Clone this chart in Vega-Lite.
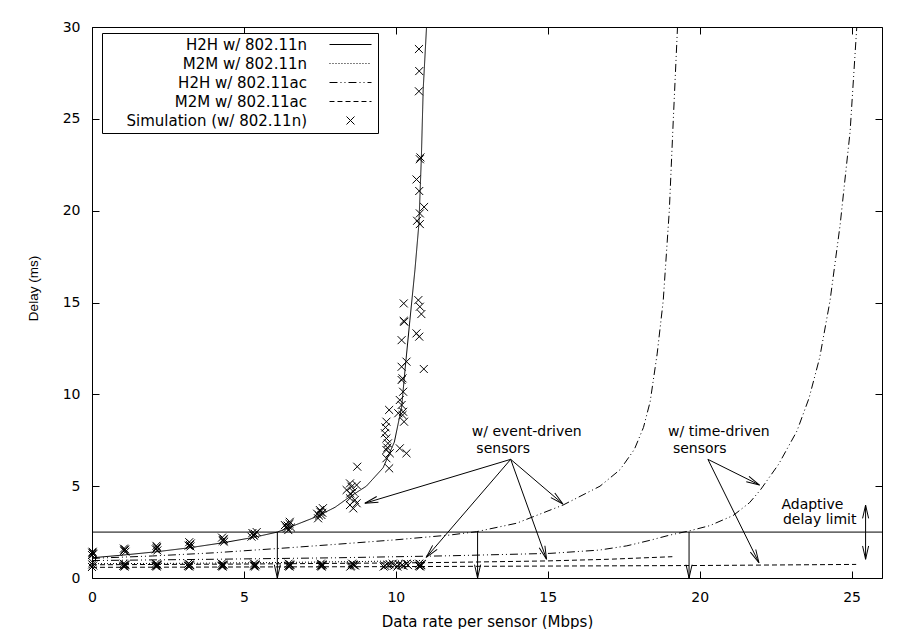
{
 "$schema": "https://vega.github.io/schema/vega-lite/v6.json",
 "width": 790,
 "height": 551,
 "autosize": "none",
 "padding": {"left": 92, "top": 27, "right": 22, "bottom": 51},
 "background": "white",
 "config": {
  "font": "DejaVu Sans",
  "view": {"stroke": "black", "strokeWidth": 1},
  "axis": {"grid": false, "domain": false, "tickColor": "black", "tickSize": -7, "tickWidth": 1, "labelPadding": 19, "labelFlush": false, "labelFont": "DejaVu Sans", "labelFontSize": 14, "labelColor": "black", "titleFont": "DejaVu Sans", "titleFontSize": 15, "titleFontWeight": "normal", "titleColor": "black"}
 },
 "resolve": {"axis": {"x": "independent", "y": "independent"}},
 "datasets": {
  "curves": [
   {"c": "a", "s": "H2H w/ 802.11n", "x": 0, "y": 1.1},
   {"c": "a", "s": "H2H w/ 802.11n", "x": 1.03, "y": 1.25},
   {"c": "a", "s": "H2H w/ 802.11n", "x": 2.13, "y": 1.43},
   {"c": "a", "s": "H2H w/ 802.11n", "x": 3.22, "y": 1.65},
   {"c": "a", "s": "H2H w/ 802.11n", "x": 4.32, "y": 1.92},
   {"c": "a", "s": "H2H w/ 802.11n", "x": 5.31, "y": 2.21},
   {"c": "a", "s": "H2H w/ 802.11n", "x": 6.1, "y": 2.5},
   {"c": "a", "s": "H2H w/ 802.11n", "x": 7.39, "y": 3.34},
   {"c": "a", "s": "H2H w/ 802.11n", "x": 8.0, "y": 3.85},
   {"c": "a", "s": "H2H w/ 802.11n", "x": 8.49, "y": 4.43},
   {"c": "a", "s": "H2H w/ 802.11n", "x": 9.03, "y": 5.0},
   {"c": "a", "s": "H2H w/ 802.11n", "x": 9.58, "y": 6.0},
   {"c": "a", "s": "H2H w/ 802.11n", "x": 9.95, "y": 7.4},
   {"c": "a", "s": "H2H w/ 802.11n", "x": 10.19, "y": 9.3},
   {"c": "a", "s": "H2H w/ 802.11n", "x": 10.3, "y": 11.3},
   {"c": "a", "s": "H2H w/ 802.11n", "x": 10.46, "y": 14.0},
   {"c": "a", "s": "H2H w/ 802.11n", "x": 10.63, "y": 16.8},
   {"c": "a", "s": "H2H w/ 802.11n", "x": 10.76, "y": 19.3},
   {"c": "a", "s": "H2H w/ 802.11n", "x": 10.84, "y": 22.9},
   {"c": "a", "s": "H2H w/ 802.11n", "x": 10.9, "y": 26.6},
   {"c": "a", "s": "H2H w/ 802.11n", "x": 11.01, "y": 30},
   {"c": "b", "s": "M2M w/ 802.11n", "x": 0, "y": 0.78},
   {"c": "b", "s": "M2M w/ 802.11n", "x": 3, "y": 0.8},
   {"c": "b", "s": "M2M w/ 802.11n", "x": 6, "y": 0.84},
   {"c": "b", "s": "M2M w/ 802.11n", "x": 9, "y": 0.9},
   {"c": "b", "s": "M2M w/ 802.11n", "x": 11, "y": 0.96},
   {"c": "c", "s": "H2H w/ 802.11ac", "x": 0, "y": 1.07},
   {"c": "c", "s": "H2H w/ 802.11ac", "x": 2, "y": 1.2},
   {"c": "c", "s": "H2H w/ 802.11ac", "x": 4, "y": 1.37},
   {"c": "c", "s": "H2H w/ 802.11ac", "x": 6.5, "y": 1.65},
   {"c": "c", "s": "H2H w/ 802.11ac", "x": 8, "y": 1.83},
   {"c": "c", "s": "H2H w/ 802.11ac", "x": 10, "y": 2.08},
   {"c": "c", "s": "H2H w/ 802.11ac", "x": 11.78, "y": 2.34},
   {"c": "c", "s": "H2H w/ 802.11ac", "x": 12.65, "y": 2.52},
   {"c": "c", "s": "H2H w/ 802.11ac", "x": 13.97, "y": 2.98},
   {"c": "c", "s": "H2H w/ 802.11ac", "x": 15.5, "y": 3.97},
   {"c": "c", "s": "H2H w/ 802.11ac", "x": 16.72, "y": 5.0},
   {"c": "c", "s": "H2H w/ 802.11ac", "x": 17.38, "y": 5.9},
   {"c": "c", "s": "H2H w/ 802.11ac", "x": 17.85, "y": 7.0},
   {"c": "c", "s": "H2H w/ 802.11ac", "x": 18.15, "y": 8.2},
   {"c": "c", "s": "H2H w/ 802.11ac", "x": 18.37, "y": 9.6},
   {"c": "c", "s": "H2H w/ 802.11ac", "x": 18.6, "y": 12.2},
   {"c": "c", "s": "H2H w/ 802.11ac", "x": 18.8, "y": 15.1},
   {"c": "c", "s": "H2H w/ 802.11ac", "x": 19.0, "y": 20},
   {"c": "c", "s": "H2H w/ 802.11ac", "x": 19.13, "y": 24.9},
   {"c": "c", "s": "H2H w/ 802.11ac", "x": 19.27, "y": 30},
   {"c": "d", "s": "H2H w/ 802.11ac", "x": 0, "y": 0.95},
   {"c": "d", "s": "H2H w/ 802.11ac", "x": 4, "y": 1.02},
   {"c": "d", "s": "H2H w/ 802.11ac", "x": 8, "y": 1.1},
   {"c": "d", "s": "H2H w/ 802.11ac", "x": 11.78, "y": 1.21},
   {"c": "d", "s": "H2H w/ 802.11ac", "x": 15.07, "y": 1.34},
   {"c": "d", "s": "H2H w/ 802.11ac", "x": 16.7, "y": 1.52},
   {"c": "d", "s": "H2H w/ 802.11ac", "x": 17.6, "y": 1.75},
   {"c": "d", "s": "H2H w/ 802.11ac", "x": 18.36, "y": 2.05},
   {"c": "d", "s": "H2H w/ 802.11ac", "x": 19.0, "y": 2.33},
   {"c": "d", "s": "H2H w/ 802.11ac", "x": 19.67, "y": 2.57},
   {"c": "d", "s": "H2H w/ 802.11ac", "x": 20.33, "y": 2.85},
   {"c": "d", "s": "H2H w/ 802.11ac", "x": 21.1, "y": 3.4},
   {"c": "d", "s": "H2H w/ 802.11ac", "x": 21.64, "y": 4.1},
   {"c": "d", "s": "H2H w/ 802.11ac", "x": 22.0, "y": 4.8},
   {"c": "d", "s": "H2H w/ 802.11ac", "x": 22.6, "y": 6.2},
   {"c": "d", "s": "H2H w/ 802.11ac", "x": 23.2, "y": 8.0},
   {"c": "d", "s": "H2H w/ 802.11ac", "x": 23.6, "y": 9.8},
   {"c": "d", "s": "H2H w/ 802.11ac", "x": 23.95, "y": 12.0},
   {"c": "d", "s": "H2H w/ 802.11ac", "x": 24.29, "y": 15.1},
   {"c": "d", "s": "H2H w/ 802.11ac", "x": 24.62, "y": 19.2},
   {"c": "d", "s": "H2H w/ 802.11ac", "x": 24.95, "y": 24.3},
   {"c": "d", "s": "H2H w/ 802.11ac", "x": 25.17, "y": 30},
   {"c": "e", "s": "M2M w/ 802.11ac", "x": 0, "y": 0.72},
   {"c": "e", "s": "M2M w/ 802.11ac", "x": 5, "y": 0.76},
   {"c": "e", "s": "M2M w/ 802.11ac", "x": 10, "y": 0.82},
   {"c": "e", "s": "M2M w/ 802.11ac", "x": 11.78, "y": 0.85},
   {"c": "e", "s": "M2M w/ 802.11ac", "x": 15, "y": 0.93},
   {"c": "e", "s": "M2M w/ 802.11ac", "x": 17, "y": 1.02},
   {"c": "e", "s": "M2M w/ 802.11ac", "x": 19.1, "y": 1.16},
   {"c": "f", "s": "M2M w/ 802.11ac", "x": 0, "y": 0.58},
   {"c": "f", "s": "M2M w/ 802.11ac", "x": 10, "y": 0.62},
   {"c": "f", "s": "M2M w/ 802.11ac", "x": 20, "y": 0.68},
   {"c": "f", "s": "M2M w/ 802.11ac", "x": 25.15, "y": 0.74}
  ],
  "arrows": [
   {"x": 13.78, "y": 6.46, "x2": 8.98, "y2": 4.07},
   {"x": 13.78, "y": 6.46, "x2": 11.0, "y2": 1.12},
   {"x": 13.78, "y": 6.46, "x2": 15.5, "y2": 4.03},
   {"x": 13.78, "y": 6.46, "x2": 14.96, "y2": 1.02},
   {"x": 20.27, "y": 6.46, "x2": 21.97, "y2": 5.06},
   {"x": 20.27, "y": 6.46, "x2": 21.95, "y2": 0.83},
   {"x": 6.1, "y": 2.5, "x2": 6.1, "y2": 0},
   {"x": 12.69, "y": 2.5, "x2": 12.69, "y2": 0},
   {"x": 19.65, "y": 2.5, "x2": 19.65, "y2": 0},
   {"x": 25.46, "y": 2.5, "x2": 25.46, "y2": 3.97},
   {"x": 25.46, "y": 2.5, "x2": 25.46, "y2": 1.02}
  ],
  "labels": [
   {"tx": 12.5, "ty": 7.95, "label": "w/ event-driven"},
   {"tx": 12.65, "ty": 7.02, "label": "sensors"},
   {"tx": 18.96, "ty": 7.95, "label": "w/ time-driven"},
   {"tx": 19.12, "ty": 7.02, "label": "sensors"},
   {"tx": 22.69, "ty": 3.97, "label": "Adaptive"},
   {"tx": 22.74, "ty": 3.16, "label": "delay limit"}
  ],
  "sims": [
   {"s": "Simulation (w/ 802.11n)", "x": 0.02, "y": 1.43},
   {"s": "Simulation (w/ 802.11n)", "x": 0.03, "y": 1.34},
   {"s": "Simulation (w/ 802.11n)", "x": 0.0, "y": 1.25},
   {"s": "Simulation (w/ 802.11n)", "x": 0.01, "y": 1.38},
   {"s": "Simulation (w/ 802.11n)", "x": 0.04, "y": 1.3},
   {"s": "Simulation (w/ 802.11n)", "x": 1.07, "y": 1.52},
   {"s": "Simulation (w/ 802.11n)", "x": 1.05, "y": 1.6},
   {"s": "Simulation (w/ 802.11n)", "x": 1.1, "y": 1.43},
   {"s": "Simulation (w/ 802.11n)", "x": 1.06, "y": 1.48},
   {"s": "Simulation (w/ 802.11n)", "x": 1.09, "y": 1.56},
   {"s": "Simulation (w/ 802.11n)", "x": 2.13, "y": 1.62},
   {"s": "Simulation (w/ 802.11n)", "x": 2.12, "y": 1.75},
   {"s": "Simulation (w/ 802.11n)", "x": 2.15, "y": 1.5},
   {"s": "Simulation (w/ 802.11n)", "x": 2.1, "y": 1.56},
   {"s": "Simulation (w/ 802.11n)", "x": 2.14, "y": 1.68},
   {"s": "Simulation (w/ 802.11n)", "x": 3.22, "y": 1.8},
   {"s": "Simulation (w/ 802.11n)", "x": 3.2, "y": 1.95},
   {"s": "Simulation (w/ 802.11n)", "x": 3.24, "y": 1.72},
   {"s": "Simulation (w/ 802.11n)", "x": 3.18, "y": 1.76},
   {"s": "Simulation (w/ 802.11n)", "x": 3.25, "y": 1.88},
   {"s": "Simulation (w/ 802.11n)", "x": 4.32, "y": 2.07},
   {"s": "Simulation (w/ 802.11n)", "x": 4.28, "y": 2.2},
   {"s": "Simulation (w/ 802.11n)", "x": 4.35, "y": 1.98},
   {"s": "Simulation (w/ 802.11n)", "x": 4.3, "y": 2.02},
   {"s": "Simulation (w/ 802.11n)", "x": 4.34, "y": 2.13},
   {"s": "Simulation (w/ 802.11n)", "x": 5.31, "y": 2.34},
   {"s": "Simulation (w/ 802.11n)", "x": 5.42, "y": 2.5},
   {"s": "Simulation (w/ 802.11n)", "x": 5.25, "y": 2.25},
   {"s": "Simulation (w/ 802.11n)", "x": 5.36, "y": 2.4},
   {"s": "Simulation (w/ 802.11n)", "x": 5.33, "y": 2.3},
   {"s": "Simulation (w/ 802.11n)", "x": 5.28, "y": 2.45},
   {"s": "Simulation (w/ 802.11n)", "x": 6.51, "y": 3.06},
   {"s": "Simulation (w/ 802.11n)", "x": 6.4, "y": 2.79},
   {"s": "Simulation (w/ 802.11n)", "x": 6.46, "y": 2.61},
   {"s": "Simulation (w/ 802.11n)", "x": 6.35, "y": 2.88},
   {"s": "Simulation (w/ 802.11n)", "x": 6.5, "y": 2.95},
   {"s": "Simulation (w/ 802.11n)", "x": 6.42, "y": 2.7},
   {"s": "Simulation (w/ 802.11n)", "x": 6.44, "y": 2.85},
   {"s": "Simulation (w/ 802.11n)", "x": 6.55, "y": 2.75},
   {"s": "Simulation (w/ 802.11n)", "x": 7.5, "y": 3.7},
   {"s": "Simulation (w/ 802.11n)", "x": 7.55, "y": 3.43},
   {"s": "Simulation (w/ 802.11n)", "x": 7.44, "y": 3.25},
   {"s": "Simulation (w/ 802.11n)", "x": 7.6, "y": 3.8},
   {"s": "Simulation (w/ 802.11n)", "x": 7.41, "y": 3.5},
   {"s": "Simulation (w/ 802.11n)", "x": 7.52, "y": 3.6},
   {"s": "Simulation (w/ 802.11n)", "x": 7.47, "y": 3.4},
   {"s": "Simulation (w/ 802.11n)", "x": 7.58, "y": 3.55},
   {"s": "Simulation (w/ 802.11n)", "x": 8.49, "y": 5.15},
   {"s": "Simulation (w/ 802.11n)", "x": 8.71, "y": 5.06},
   {"s": "Simulation (w/ 802.11n)", "x": 8.38, "y": 4.79},
   {"s": "Simulation (w/ 802.11n)", "x": 8.6, "y": 4.7},
   {"s": "Simulation (w/ 802.11n)", "x": 8.49, "y": 4.34},
   {"s": "Simulation (w/ 802.11n)", "x": 8.65, "y": 4.25},
   {"s": "Simulation (w/ 802.11n)", "x": 8.49, "y": 3.97},
   {"s": "Simulation (w/ 802.11n)", "x": 8.71, "y": 4.07},
   {"s": "Simulation (w/ 802.11n)", "x": 8.6, "y": 3.79},
   {"s": "Simulation (w/ 802.11n)", "x": 8.73, "y": 6.06},
   {"s": "Simulation (w/ 802.11n)", "x": 8.54, "y": 4.97},
   {"s": "Simulation (w/ 802.11n)", "x": 8.5, "y": 4.6},
   {"s": "Simulation (w/ 802.11n)", "x": 9.64, "y": 7.88},
   {"s": "Simulation (w/ 802.11n)", "x": 9.69, "y": 7.6},
   {"s": "Simulation (w/ 802.11n)", "x": 9.74, "y": 7.33},
   {"s": "Simulation (w/ 802.11n)", "x": 9.69, "y": 6.97},
   {"s": "Simulation (w/ 802.11n)", "x": 9.8, "y": 6.79},
   {"s": "Simulation (w/ 802.11n)", "x": 9.69, "y": 6.52},
   {"s": "Simulation (w/ 802.11n)", "x": 9.78, "y": 5.97},
   {"s": "Simulation (w/ 802.11n)", "x": 9.69, "y": 8.51},
   {"s": "Simulation (w/ 802.11n)", "x": 9.78, "y": 9.15},
   {"s": "Simulation (w/ 802.11n)", "x": 9.72, "y": 7.1},
   {"s": "Simulation (w/ 802.11n)", "x": 9.66, "y": 8.2},
   {"s": "Simulation (w/ 802.11n)", "x": 10.13, "y": 7.06},
   {"s": "Simulation (w/ 802.11n)", "x": 10.35, "y": 6.79},
   {"s": "Simulation (w/ 802.11n)", "x": 10.27, "y": 8.51},
   {"s": "Simulation (w/ 802.11n)", "x": 10.08, "y": 8.97},
   {"s": "Simulation (w/ 802.11n)", "x": 10.24, "y": 9.05},
   {"s": "Simulation (w/ 802.11n)", "x": 10.13, "y": 9.69},
   {"s": "Simulation (w/ 802.11n)", "x": 10.24, "y": 10.14},
   {"s": "Simulation (w/ 802.11n)", "x": 10.19, "y": 10.78},
   {"s": "Simulation (w/ 802.11n)", "x": 10.22, "y": 10.87},
   {"s": "Simulation (w/ 802.11n)", "x": 10.19, "y": 11.5},
   {"s": "Simulation (w/ 802.11n)", "x": 10.35, "y": 11.78},
   {"s": "Simulation (w/ 802.11n)", "x": 10.19, "y": 12.95},
   {"s": "Simulation (w/ 802.11n)", "x": 10.26, "y": 14.0},
   {"s": "Simulation (w/ 802.11n)", "x": 10.28, "y": 13.95},
   {"s": "Simulation (w/ 802.11n)", "x": 10.26, "y": 14.95},
   {"s": "Simulation (w/ 802.11n)", "x": 10.22, "y": 8.87},
   {"s": "Simulation (w/ 802.11n)", "x": 10.19, "y": 9.42},
   {"s": "Simulation (w/ 802.11n)", "x": 10.92, "y": 11.38},
   {"s": "Simulation (w/ 802.11n)", "x": 10.77, "y": 13.14},
   {"s": "Simulation (w/ 802.11n)", "x": 10.68, "y": 13.32},
   {"s": "Simulation (w/ 802.11n)", "x": 10.74, "y": 15.13},
   {"s": "Simulation (w/ 802.11n)", "x": 10.79, "y": 14.77},
   {"s": "Simulation (w/ 802.11n)", "x": 10.84, "y": 14.37},
   {"s": "Simulation (w/ 802.11n)", "x": 10.79, "y": 19.27},
   {"s": "Simulation (w/ 802.11n)", "x": 10.7, "y": 19.45},
   {"s": "Simulation (w/ 802.11n)", "x": 10.79, "y": 19.85},
   {"s": "Simulation (w/ 802.11n)", "x": 10.93, "y": 20.2},
   {"s": "Simulation (w/ 802.11n)", "x": 10.77, "y": 21.07},
   {"s": "Simulation (w/ 802.11n)", "x": 10.68, "y": 21.7},
   {"s": "Simulation (w/ 802.11n)", "x": 10.79, "y": 22.8},
   {"s": "Simulation (w/ 802.11n)", "x": 10.81, "y": 22.9},
   {"s": "Simulation (w/ 802.11n)", "x": 10.76, "y": 26.5},
   {"s": "Simulation (w/ 802.11n)", "x": 10.77, "y": 27.6},
   {"s": "Simulation (w/ 802.11n)", "x": 10.76, "y": 28.8},
   {"s": "Simulation (w/ 802.11n)", "x": 0.0, "y": 0.6},
   {"s": "Simulation (w/ 802.11n)", "x": 0.02, "y": 0.85},
   {"s": "Simulation (w/ 802.11n)", "x": 0.04, "y": 0.68},
   {"s": "Simulation (w/ 802.11n)", "x": 0.01, "y": 0.74},
   {"s": "Simulation (w/ 802.11n)", "x": 1.07, "y": 0.62},
   {"s": "Simulation (w/ 802.11n)", "x": 1.1, "y": 0.7},
   {"s": "Simulation (w/ 802.11n)", "x": 1.04, "y": 0.78},
   {"s": "Simulation (w/ 802.11n)", "x": 1.03, "y": 0.66},
   {"s": "Simulation (w/ 802.11n)", "x": 1.09, "y": 0.74},
   {"s": "Simulation (w/ 802.11n)", "x": 1.06, "y": 0.68},
   {"s": "Simulation (w/ 802.11n)", "x": 2.13, "y": 0.62},
   {"s": "Simulation (w/ 802.11n)", "x": 2.16, "y": 0.7},
   {"s": "Simulation (w/ 802.11n)", "x": 2.1, "y": 0.78},
   {"s": "Simulation (w/ 802.11n)", "x": 2.09, "y": 0.66},
   {"s": "Simulation (w/ 802.11n)", "x": 2.15, "y": 0.74},
   {"s": "Simulation (w/ 802.11n)", "x": 2.12, "y": 0.68},
   {"s": "Simulation (w/ 802.11n)", "x": 3.2, "y": 0.62},
   {"s": "Simulation (w/ 802.11n)", "x": 3.23, "y": 0.7},
   {"s": "Simulation (w/ 802.11n)", "x": 3.17, "y": 0.78},
   {"s": "Simulation (w/ 802.11n)", "x": 3.16, "y": 0.66},
   {"s": "Simulation (w/ 802.11n)", "x": 3.22, "y": 0.74},
   {"s": "Simulation (w/ 802.11n)", "x": 3.19, "y": 0.68},
   {"s": "Simulation (w/ 802.11n)", "x": 4.3, "y": 0.62},
   {"s": "Simulation (w/ 802.11n)", "x": 4.33, "y": 0.7},
   {"s": "Simulation (w/ 802.11n)", "x": 4.27, "y": 0.78},
   {"s": "Simulation (w/ 802.11n)", "x": 4.26, "y": 0.66},
   {"s": "Simulation (w/ 802.11n)", "x": 4.32, "y": 0.74},
   {"s": "Simulation (w/ 802.11n)", "x": 4.29, "y": 0.68},
   {"s": "Simulation (w/ 802.11n)", "x": 5.36, "y": 0.62},
   {"s": "Simulation (w/ 802.11n)", "x": 5.39, "y": 0.7},
   {"s": "Simulation (w/ 802.11n)", "x": 5.33, "y": 0.78},
   {"s": "Simulation (w/ 802.11n)", "x": 5.32, "y": 0.66},
   {"s": "Simulation (w/ 802.11n)", "x": 5.38, "y": 0.74},
   {"s": "Simulation (w/ 802.11n)", "x": 5.35, "y": 0.68},
   {"s": "Simulation (w/ 802.11n)", "x": 6.5, "y": 0.62},
   {"s": "Simulation (w/ 802.11n)", "x": 6.53, "y": 0.7},
   {"s": "Simulation (w/ 802.11n)", "x": 6.47, "y": 0.78},
   {"s": "Simulation (w/ 802.11n)", "x": 6.46, "y": 0.66},
   {"s": "Simulation (w/ 802.11n)", "x": 6.52, "y": 0.74},
   {"s": "Simulation (w/ 802.11n)", "x": 6.49, "y": 0.68},
   {"s": "Simulation (w/ 802.11n)", "x": 7.56, "y": 0.62},
   {"s": "Simulation (w/ 802.11n)", "x": 7.59, "y": 0.7},
   {"s": "Simulation (w/ 802.11n)", "x": 7.53, "y": 0.78},
   {"s": "Simulation (w/ 802.11n)", "x": 7.52, "y": 0.66},
   {"s": "Simulation (w/ 802.11n)", "x": 7.58, "y": 0.74},
   {"s": "Simulation (w/ 802.11n)", "x": 7.55, "y": 0.68},
   {"s": "Simulation (w/ 802.11n)", "x": 8.5, "y": 0.62},
   {"s": "Simulation (w/ 802.11n)", "x": 8.62, "y": 0.7},
   {"s": "Simulation (w/ 802.11n)", "x": 8.56, "y": 0.78},
   {"s": "Simulation (w/ 802.11n)", "x": 8.53, "y": 0.66},
   {"s": "Simulation (w/ 802.11n)", "x": 8.6, "y": 0.74},
   {"s": "Simulation (w/ 802.11n)", "x": 8.66, "y": 0.68},
   {"s": "Simulation (w/ 802.11n)", "x": 9.6, "y": 0.62},
   {"s": "Simulation (w/ 802.11n)", "x": 9.75, "y": 0.7},
   {"s": "Simulation (w/ 802.11n)", "x": 9.9, "y": 0.78},
   {"s": "Simulation (w/ 802.11n)", "x": 9.65, "y": 0.66},
   {"s": "Simulation (w/ 802.11n)", "x": 9.8, "y": 0.74},
   {"s": "Simulation (w/ 802.11n)", "x": 9.95, "y": 0.68},
   {"s": "Simulation (w/ 802.11n)", "x": 10.05, "y": 0.62},
   {"s": "Simulation (w/ 802.11n)", "x": 10.2, "y": 0.7},
   {"s": "Simulation (w/ 802.11n)", "x": 10.35, "y": 0.78},
   {"s": "Simulation (w/ 802.11n)", "x": 10.1, "y": 0.74},
   {"s": "Simulation (w/ 802.11n)", "x": 10.25, "y": 0.66},
   {"s": "Simulation (w/ 802.11n)", "x": 10.4, "y": 0.7},
   {"s": "Simulation (w/ 802.11n)", "x": 10.8, "y": 0.62},
   {"s": "Simulation (w/ 802.11n)", "x": 10.83, "y": 0.7},
   {"s": "Simulation (w/ 802.11n)", "x": 10.77, "y": 0.78},
   {"s": "Simulation (w/ 802.11n)", "x": 10.76, "y": 0.66},
   {"s": "Simulation (w/ 802.11n)", "x": 10.82, "y": 0.74},
   {"s": "Simulation (w/ 802.11n)", "x": 10.79, "y": 0.68}
  ]
 },
 "layer": [
  {
   "data": {"name": "curves"},
   "mark": {"type": "line", "color": "black", "strokeWidth": 1, "clip": true},
   "encoding": {
    "x": {"field": "x", "type": "quantitative", "scale": {"domain": [0, 26], "nice": false, "zero": false}, "axis": {"orient": "bottom", "values": [0, 5, 10, 15, 20, 25], "title": "Data rate per sensor (Mbps)", "titlePadding": 10}},
    "y": {"field": "y", "type": "quantitative", "scale": {"domain": [0, 30], "nice": false}, "axis": {"orient": "left", "values": [0, 5, 10, 15, 20, 25, 30], "title": "Delay (ms)", "titlePadding": 22, "titleY": 261, "titleFont": "Liberation Sans", "titleFontSize": 13.5}},
    "detail": {"field": "c"},
    "strokeDash": {"field": "s", "type": "nominal", "scale": {"domain": ["H2H w/ 802.11n", "M2M w/ 802.11n", "H2H w/ 802.11ac", "M2M w/ 802.11ac"], "range": [[1, 0], [1, 2], [8, 3, 1, 3, 1, 3], [5, 3]]}, "legend": null}
   }
  },
  {
   "data": {"values": [{}]},
   "mark": {"type": "rule", "color": "black", "strokeWidth": 1},
   "encoding": {"y": {"datum": 2.5, "type": "quantitative", "axis": null}}
  },
  {
   "data": {"name": "arrows"},
   "mark": {"type": "rule", "color": "black", "strokeWidth": 1},
   "encoding": {
    "x": {"field": "x", "type": "quantitative", "axis": null},
    "y": {"field": "y", "type": "quantitative", "axis": null},
    "x2": {"field": "x2"},
    "y2": {"field": "y2"}
   }
  },
  {
   "data": {"name": "arrows"},
   "transform": [{"calculate": "atan2((datum.x2-datum.x)*30.38,(datum.y2-datum.y)*18.37)*180/PI", "as": "ang"}],
   "mark": {"type": "point", "shape": "M-0.43,1.9L0,0L0.43,1.9", "size": 196, "filled": false, "color": "black", "strokeWidth": 1, "opacity": 1},
   "encoding": {
    "x": {"field": "x2", "type": "quantitative", "axis": null},
    "y": {"field": "y2", "type": "quantitative", "axis": null},
    "angle": {"field": "ang", "type": "quantitative", "scale": null}
   }
  },
  {
   "data": {"name": "labels"},
   "mark": {"type": "text", "align": "left", "baseline": "middle", "fontSize": 14, "font": "DejaVu Sans", "color": "black"},
   "encoding": {
    "x": {"field": "tx", "type": "quantitative", "axis": {"orient": "top", "values": [0, 5, 10, 15, 20, 25], "labels": false, "title": null}},
    "y": {"field": "ty", "type": "quantitative", "axis": {"orient": "right", "values": [0, 5, 10, 15, 20, 25, 30], "labels": false, "title": null}},
    "text": {"field": "label"}
   }
  },
  {
   "data": {"name": "sims"},
   "mark": {"type": "point", "size": 196, "filled": false, "color": "black", "strokeWidth": 1, "opacity": 1},
   "encoding": {
    "x": {"field": "x", "type": "quantitative", "axis": null},
    "y": {"field": "y", "type": "quantitative", "axis": null},
    "shape": {
     "field": "s", "type": "nominal",
     "scale": {
      "domain": ["H2H w/ 802.11n", "M2M w/ 802.11n", "H2H w/ 802.11ac", "M2M w/ 802.11ac", "Simulation (w/ 802.11n)"],
      "range": [
       "M-3,0H3",
       "M-3,0h0.14M-2.57,0h0.14M-2.14,0h0.14M-1.71,0h0.14M-1.29,0h0.14M-0.86,0h0.14M-0.43,0h0.14M0,0h0.14M0.43,0h0.14M0.86,0h0.14M1.29,0h0.14M1.71,0h0.14M2.14,0h0.14M2.57,0h0.14",
       "M-3,0h1.14M-1.43,0h0.14M-0.86,0h0.14M-0.29,0h1.14M1.29,0h0.14M1.86,0h0.14M2.43,0h0.57",
       "M-3,0h0.71M-1.86,0h0.71M-0.71,0h0.71M0.43,0h0.71M1.57,0h0.71M2.71,0h0.29",
       "M-0.57,-0.57L0.57,0.57M-0.57,0.57L0.57,-0.57"
      ]
     },
     "legend": {"orient": "none", "legendX": 10, "legendY": 6, "title": null, "padding": 4, "strokeColor": "black", "fillColor": "white", "labelFont": "DejaVu Sans", "labelFontSize": 15, "labelColor": "black", "labelAlign": "right", "labelOffset": -51, "symbolOffset": 237, "labelLimit": 300, "rowPadding": 3, "symbolSize": 196, "symbolStrokeColor": "black", "symbolStrokeWidth": 1, "symbolFillColor": "transparent", "cornerRadius": 0}
    }
   }
  }
 ]
}
